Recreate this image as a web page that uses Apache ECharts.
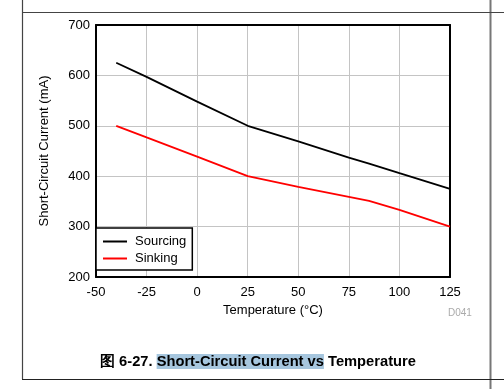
<!DOCTYPE html>
<html>
<head>
<meta charset="utf-8">
<script src="https://cdn.jsdelivr.net/npm/echarts@6/dist/echarts.min.js"></script>
<style>html,body{margin:0;padding:0;background:#fff}#c{width:504px;height:389px}</style>
</head>
<body>
<div id="c"></div>
<script>
var temps = [-40, -25, 0, 25, 50, 75, 85, 100, 125];
var sourcing = [625, 597, 548, 500, 469, 437, 425, 406, 375];
var sinking = [500, 477, 439, 400, 379, 359, 351, 333, 300];
var seriesNames = ['Sourcing', 'Sinking'];
var xTitle = 'Temperature (°C)';
var yTitle = 'Short-Circuit Current (mA)';
var captionNum = '图 6-27. ';
var captionHi = 'Short-Circuit Current vs';
var captionRest = ' Temperature';

function pairs(xs, ys) { return xs.map(function (x, i) { return [x, ys[i]]; }); }

var chart = echarts.init(document.getElementById('c'), null, { renderer: 'canvas' });
var font = '"Liberation Sans", Arial, sans-serif';
chart.setOption({
  animation: false,
  textStyle: { fontFamily: font },
  grid: { left: 96, right: 54, top: 25, bottom: 112, show: false },
  xAxis: [{
    type: 'value', min: -50, max: 125, interval: 25, position: 'bottom',
    axisLine: { show: true, onZero: false, lineStyle: { color: '#000', width: 2 } },
    axisTick: { show: false },
    axisLabel: { color: '#000', fontSize: 13, margin: 9, fontFamily: font },
    splitLine: { show: true, showMinLine: false, showMaxLine: false, lineStyle: { color: '#c4c4c4', width: 1 } },
    name: xTitle, nameLocation: 'middle', nameGap: 22,
    nameTextStyle: { color: '#000', fontSize: 13, fontFamily: font }
  }, {
    type: 'value', min: -50, max: 125, interval: 25, position: 'top',
    axisLine: { show: true, onZero: false, lineStyle: { color: '#000', width: 2 } },
    axisTick: { show: false }, axisLabel: { show: false }, splitLine: { show: false }
  }],
  yAxis: [{
    type: 'value', min: 200, max: 700, interval: 100, position: 'left',
    axisLine: { show: true, onZero: false, lineStyle: { color: '#000', width: 2 } },
    axisTick: { show: false },
    axisLabel: { color: '#000', fontSize: 13, margin: 6, fontFamily: font },
    splitLine: { show: true, showMinLine: false, showMaxLine: false, lineStyle: { color: '#c4c4c4', width: 1 } },
    name: yTitle, nameLocation: 'middle', nameGap: 45, nameRotate: 90,
    nameTextStyle: { color: '#000', fontSize: 13, fontFamily: font }
  }, {
    type: 'value', min: 200, max: 700, interval: 100, position: 'right',
    axisLine: { show: true, onZero: false, lineStyle: { color: '#000', width: 2 } },
    axisTick: { show: false }, axisLabel: { show: false }, splitLine: { show: false }
  }],
  legend: {
    orient: 'vertical', left: 96, top: 228,
    data: seriesNames,
    icon: 'rect',
    itemWidth: 24, itemHeight: 2, itemGap: 4,
    padding: [7, 6, 5, 7],
    backgroundColor: '#fff', borderColor: '#000', borderWidth: 1.5, borderRadius: 0,
    textStyle: { color: '#000', fontSize: 13, fontFamily: font, padding: [0, 0, 0, 3], lineHeight: 13 }
  },
  series: [{
    name: seriesNames[0], type: 'line', data: pairs(temps, sourcing),
    symbol: 'none', lineStyle: { color: '#000', width: 1.8 }, itemStyle: { color: '#000' }
  }, {
    name: seriesNames[1], type: 'line', data: pairs(temps, sinking),
    symbol: 'none', lineStyle: { color: '#ff0000', width: 1.8 }, itemStyle: { color: '#ff0000' }
  }],
  graphic: [
    { type: 'line', shape: { x1: 22.5, y1: 0, x2: 22.5, y2: 379 }, style: { stroke: '#444', lineWidth: 1.2 } },
    { type: 'line', shape: { x1: 490.5, y1: 0, x2: 490.5, y2: 389 }, style: { stroke: '#777', lineWidth: 2 } },
    { type: 'line', shape: { x1: 22, y1: 12.5, x2: 504, y2: 12.5 }, style: { stroke: '#444', lineWidth: 1.2 } },
    { type: 'line', shape: { x1: 22, y1: 379.5, x2: 504, y2: 379.5 }, style: { stroke: '#222', lineWidth: 1.2 } },
    { type: 'text', left: 448, top: 308, style: { text: 'D041', fill: '#aaaaaa', fontSize: 10, fontFamily: font } },
    { type: 'text', left: 100, top: 354, style: {
      text: '{a|' + captionNum + '}{b|' + captionHi + '}{a|' + captionRest + '}',
      rich: {
        a: { fontSize: 14.7, fontWeight: 'bold', fill: '#000', fontFamily: font, lineHeight: 16 },
        b: { fontSize: 14.7, fontWeight: 'bold', fill: '#000', fontFamily: font, lineHeight: 16, backgroundColor: '#a6c6de' }
      }
    } }
  ]
});
</script>
</body>
</html>
